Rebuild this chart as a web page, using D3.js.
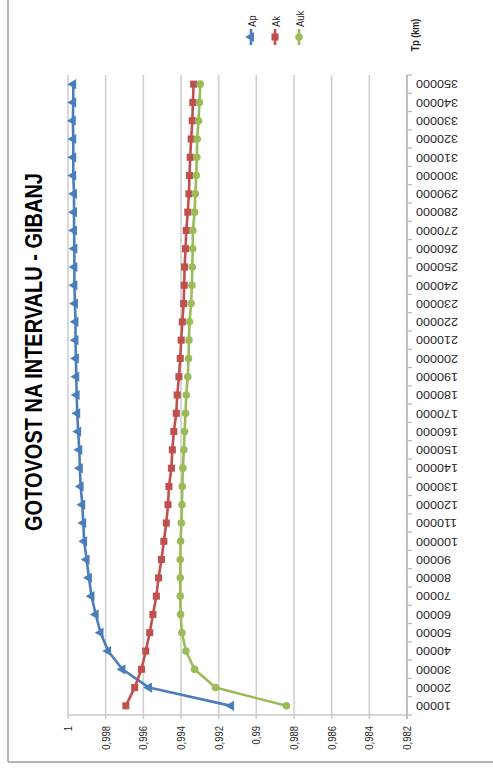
<!DOCTYPE html>
<html>
<head>
<meta charset="utf-8">
<script src="https://cdn.jsdelivr.net/npm/d3@7"></script>
<style>
  html, body { margin: 0; padding: 0; background: #ffffff; }
  svg { display: block; }
  text { font-family: "Liberation Sans", Arial, sans-serif; fill: #262626; }
</style>
</head>
<body>
<svg id="chart" width="493" height="771"></svg>
<script>
// ---- data ----
const title = "GOTOVOST NA INTERVALU - GIBANJ";
const axisTitle = "Tp (km)";
const categories = [10000, 20000, 30000, 40000, 50000, 60000, 70000, 80000, 90000, 100000,
  110000, 120000, 130000, 140000, 150000, 160000, 170000, 180000, 190000, 200000,
  210000, 220000, 230000, 240000, 250000, 260000, 270000, 280000, 290000, 300000,
  310000, 320000, 330000, 340000, 350000];
const seriesNames = ["Ap", "Ak", "Auk"];
const Ap = [0.99134, 0.9957, 0.99711, 0.99787, 0.99827, 0.99853, 0.99875, 0.99889, 0.99901, 0.99914,
  0.99919, 0.99924, 0.99933, 0.99937, 0.9994, 0.99946, 0.99951, 0.99954, 0.99956, 0.99958,
  0.9996, 0.9996, 0.99963, 0.99966, 0.99966, 0.99966, 0.99968, 0.99968, 0.99968, 0.99972,
  0.99972, 0.99972, 0.99974, 0.99972, 0.99972];
const Ak = [0.99693, 0.99646, 0.9961, 0.99587, 0.99566, 0.99549, 0.99531, 0.99519, 0.99504, 0.99491,
  0.99478, 0.99469, 0.99464, 0.99451, 0.99446, 0.99438, 0.99425, 0.9942, 0.99411, 0.99404,
  0.99399, 0.99393, 0.99386, 0.99383, 0.99381, 0.99376, 0.99372, 0.99364, 0.99358, 0.99355,
  0.99351, 0.99346, 0.9934, 0.99337, 0.99333];
const Auk = [0.9884, 0.99217, 0.99328, 0.99374, 0.99395, 0.99402, 0.99404, 0.99404, 0.99404, 0.99402,
  0.99398, 0.99395, 0.99393, 0.9939, 0.99385, 0.99381, 0.99376, 0.99372, 0.99364, 0.9936,
  0.99358, 0.99355, 0.99346, 0.99342, 0.9934, 0.99338, 0.99337, 0.99328, 0.99324, 0.99319,
  0.99316, 0.99314, 0.99307, 0.99302, 0.99298];
const valueTicks = [1, 0.998, 0.996, 0.994, 0.992, 0.99, 0.988, 0.986, 0.984, 0.982];
const valueTickLabels = ["1", "0,998", "0,996", "0,994", "0,992", "0,99", "0,988", "0,986", "0,984", "0,982"];

// ---- layout (the chart is shown rotated 90° counter-clockwise) ----
const colors = { Ap: "#4a7ebb", Ak: "#c0504d", Auk: "#9bbb59" };
const SX = 1.2; // horizontal stretch of the picture
const plot = { left: 68, right: 407, top: 75, bottom: 715 };

const svg = d3.select("#chart");

const x = d3.scaleLinear().domain([1, 0.982]).range([plot.left, plot.right]);
const y = d3.scaleBand().domain(categories).range([plot.bottom, plot.top]).padding(0);
const yc = c => y(c) + y.bandwidth() / 2;

function rtext(sx, sy, angle, str, size, anchor, weight) {
  return svg.append("text")
    .attr("transform", `translate(${sx},${sy}) scale(${SX},1) rotate(${angle})`)
    .attr("text-anchor", anchor)
    .attr("dy", "0.35em")
    .style("font-size", size + "px")
    .style("font-weight", weight || "normal")
    .text(str);
}

// outer chart border (left and bottom edges visible)
svg.append("line").attr("x1", 8).attr("x2", 8).attr("y1", 0).attr("y2", 762)
  .attr("stroke", "#b3b3b3").attr("stroke-width", 2);
svg.append("line").attr("x1", 8).attr("x2", 493).attr("y1", 762).attr("y2", 762)
  .attr("stroke", "#b3b3b3").attr("stroke-width", 2);

// gridlines
svg.append("g").selectAll("line").data(valueTicks).join("line")
  .attr("x1", d => x(d)).attr("x2", d => x(d))
  .attr("y1", plot.top).attr("y2", plot.bottom + 4)
  .attr("stroke", "#d0d0d0").attr("stroke-width", 1.6);

// value axis line (bottom)
svg.append("line").attr("x1", plot.left).attr("x2", plot.right)
  .attr("y1", plot.bottom).attr("y2", plot.bottom)
  .attr("stroke", "#c8c8c8").attr("stroke-width", 1.4);

// category axis line (right)
svg.append("line").attr("x1", plot.right).attr("x2", plot.right)
  .attr("y1", plot.top).attr("y2", plot.bottom + 4)
  .attr("stroke", "#b8b8b8").attr("stroke-width", 1.6);

// category ticks at band boundaries
const bounds = categories.map(c => y(c)).concat([plot.bottom]);
svg.append("g").selectAll("line").data(bounds).join("line")
  .attr("x1", plot.right).attr("x2", plot.right + 5)
  .attr("y1", d => d).attr("y2", d => d)
  .attr("stroke", "#b8b8b8").attr("stroke-width", 1.2);

// category labels
categories.forEach(c => rtext(416, yc(c), 180, String(c), 10.5, "end"));

// value labels
valueTicks.forEach((v, i) => rtext(x(v), 726, -90, valueTickLabels[i], 9.5, "end"));

// title
rtext(34, 352, -90, title, 20, "middle", "bold").style("fill", "#000");

// axis title
rtext(415, 35, -90, axisTitle, 9, "middle", "bold");

// series
const series = [
  { name: "Ap", values: Ap, symbol: d3.symbolTriangle, rot: -90, size: 45 },
  { name: "Ak", values: Ak, symbol: d3.symbolSquare, rot: 0, size: 50 },
  { name: "Auk", values: Auk, symbol: d3.symbolCircle, rot: 0, size: 45 }
];
const line = d3.line().x(d => x(d.v)).y(d => yc(d.c));
series.forEach(s => {
  const pts = categories.map((c, i) => ({ c, v: s.values[i] }));
  const g = svg.append("g");
  g.append("path").attr("d", line(pts)).attr("fill", "none")
    .attr("stroke", colors[s.name]).attr("stroke-width", 2.6).attr("stroke-linejoin", "round");
  g.selectAll("path.m").data(pts).join("path").attr("class", "m")
    .attr("d", d3.symbol().type(s.symbol).size(s.size))
    .attr("transform", d => `translate(${x(d.v)},${yc(d.c)}) rotate(${s.rot})`)
    .attr("fill", colors[s.name]);
});

// legend
const legendX = [251, 275, 299];
series.forEach((s, i) => {
  const lx = legendX[i];
  svg.append("line").attr("x1", lx).attr("x2", lx).attr("y1", 29).attr("y2", 45)
    .attr("stroke", colors[s.name]).attr("stroke-width", 2.6);
  svg.append("path").attr("d", d3.symbol().type(s.symbol).size(s.size))
    .attr("transform", `translate(${lx},37) rotate(${s.rot})`).attr("fill", colors[s.name]);
  rtext(lx + 1, 27, -90, seriesNames[i], 9.5, "start");
});
</script>
</body>
</html>
